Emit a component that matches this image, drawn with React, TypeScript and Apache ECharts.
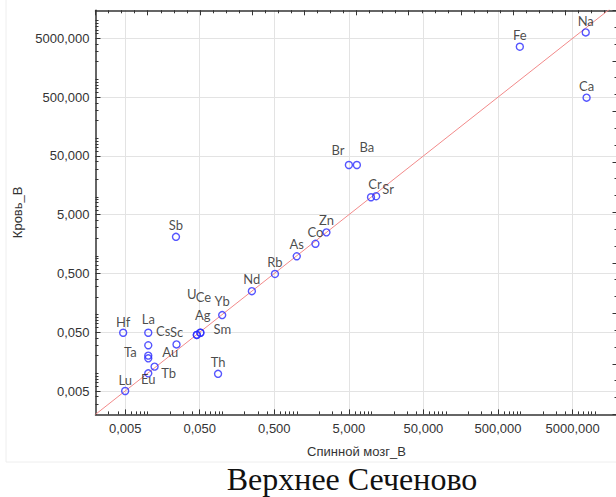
import React, { useEffect, useRef } from "react";
import * as echarts from "echarts";

// ---- data ----
const elements = ["Na", "Fe", "Ca", "Br", "Ba", "Cr", "Sr", "Zn", "Co", "As", "Rb", "Nd", "Yb", "Sb", "Hf", "La", "Cs", "Ta", "Au", "Eu", "Tb", "Lu", "Sc", "Ag", "Sm", "U", "Ce", "Th"];
// Спинной мозг_В (x)
const spinalCord = [7500, 980, 7700, 5.0, 6.4, 9.9, 11.6, 2.5, 1.78, 1.0, 0.51, 0.25, 0.1, 0.024, 0.0047, 0.0102, 0.0102, 0.0102, 0.0102, 0.0102, 0.0124, 0.005, 0.0244, 0.0457, 0.051, 0.0457, 0.051, 0.088];
// Кровь_В (y)
const blood = [6300, 3600, 490, 35, 35, 9.9, 10.3, 2.5, 1.6, 0.98, 0.49, 0.25, 0.098, 2.1, 0.049, 0.049, 0.03, 0.02, 0.018, 0.01, 0.013, 0.005, 0.031, 0.045, 0.049, 0.045, 0.049, 0.0098];
const majorTicks = [0.005, 0.05, 0.5, 5, 50, 500, 5000];
const axisMin = 0.002;
const xAxisMax = 20000;
const yAxisMax = 15000;
const xTitle = "Спинной мозг_В";
const yTitle = "Кровь_В";
const caption = "Верхнее Сеченово";

// ---- label placement (style) ----
const labelOffsets: Record<string, [number, number]> = {
  Na: [0, -11], Fe: [0, -12], Ca: [0, -12], Br: [-11, -15], Ba: [10, -18],
  Cr: [4, -13], Sr: [12, -7], Zn: [0, -12], Co: [0, -12], As: [0, -12],
  Rb: [0, -12], Nd: [0, -12], Yb: [0, -14], Sb: [0, -12], Hf: [0, -11],
  La: [0, -14], Cs: [15, -14], Ta: [-18, -4], Au: [22, -6], Eu: [0, 6],
  Tb: [14, 6], Lu: [0, -11], Sc: [0, -12], Ag: [6, -20], Sm: [22, -4],
  U: [-5, -41], Ce: [3, -36], Th: [0, -12],
};

const lg = (v: number) => Math.log10(v);
const fmt = (u: number) => Math.pow(10, u).toFixed(3).replace(".", ",");

function minorTicks(min: number, max: number) {
  const out: number[] = [];
  for (let n = -4; n <= 5; n++) {
    for (let k = 1; k <= 9; k++) {
      if (k === 5) continue;
      const v = k * Math.pow(10, n);
      if (v >= min && v <= max) out.push(lg(v));
    }
  }
  return out;
}

export default function App() {
  const ref = useRef<HTMLDivElement>(null);
  useEffect(() => {
    if (!ref.current) return;
    const chart = echarts.init(ref.current, undefined, { renderer: "svg" });
    const lineC = "#333";
    const tickLbl = { color: "#333", fontFamily: "Liberation Sans", fontSize: 13 };
    const majors = majorTicks.map(lg);
    const lo = lg(axisMin);
    const hiX = lg(xAxisMax);
    const hiY = lg(yAxisMax);
    const diagHi = Math.max(hiX, hiY);

    const mainAxis = (min: number, max: number, pos: string, extra: any) => ({
      type: "value",
      min,
      max,
      position: pos,
      axisLine: { show: true, onZero: false, lineStyle: { color: lineC, width: 1.5 } },
      axisTick: { show: true, inside: true, length: 5, customValues: majors, lineStyle: { color: lineC } },
      axisLabel: { show: true, customValues: majors, formatter: fmt, ...tickLbl, ...extra },
      splitLine: { show: true, lineStyle: { color: "#e3e3e3", width: 1 } },
    });
    const minorAxis = (min: number, max: number, pos: string) => ({
      type: "value",
      min,
      max,
      position: pos,
      axisLine: { show: false, onZero: false },
      axisTick: { show: true, inside: true, length: 3, customValues: minorTicks(Math.pow(10, min), Math.pow(10, max)), lineStyle: { color: lineC } },
      axisLabel: { show: false },
      splitLine: { show: false },
    });
    const frameAxis = (max: number, pos: string, split: number) => ({
      type: "value",
      min: 0,
      max,
      interval: 1,
      position: pos,
      axisLine: { show: true, onZero: false, lineStyle: { color: lineC, width: 1.5 } },
      axisTick: { show: true, inside: true, length: 5, lineStyle: { color: lineC } },
      minorTick: { show: true, splitNumber: split, length: 3, lineStyle: { color: lineC } },
      axisLabel: { show: false },
      splitLine: { show: false },
    });

    const data = elements.map((name, i) => ({
      name,
      value: [lg(spinalCord[i]), lg(blood[i])],
      label: { offset: labelOffsets[name] || [0, -12] },
    }));

    chart.setOption({
      animation: false,
      backgroundColor: "#ffffff",
      grid: { left: 95.5, right: -1.5, top: 10.3, bottom: 82.6, containLabel: false, outerBoundsMode: "none" },
      xAxis: [
        {
          ...mainAxis(lo, hiX, "bottom", { margin: 8 }),
          name: xTitle,
          nameLocation: "middle",
          nameGap: 31,
          nameTextStyle: { color: "#333", fontFamily: "Liberation Sans", fontSize: 13 },
        },
        minorAxis(lo, hiX, "bottom"),
        frameAxis(10, "top", 4),
      ],
      yAxis: [
        {
          ...mainAxis(lo, hiY, "left", { margin: 6 }),
          name: yTitle,
          nameLocation: "middle",
          nameGap: 71,
          nameTextStyle: { color: "#333", fontFamily: "Liberation Sans", fontSize: 13 },
        },
        minorAxis(lo, hiY, "left"),
        frameAxis(8, "right", 3),
      ],
      graphic: [
        {
          type: "rect",
          shape: { x: 6, y: -2, width: 620, height: 464 },
          style: { fill: "none", stroke: "#eeeeee", lineWidth: 1 },
          silent: true,
          z: -1,
        },
        {
          type: "text",
          x: 352,
          y: 479,
          style: {
            text: caption,
            fontFamily: "Liberation Serif",
            fontSize: 32,
            fill: "#111",
            align: "center",
            verticalAlign: "middle",
          },
        },
      ],
      series: [
        {
          type: "line",
          data: [[lo, lo], [diagHi, diagHi]],
          symbol: "none",
          silent: true,
          clip: true,
          lineStyle: { color: "#f28a8a", width: 1 },
          z: 2,
        },
        {
          type: "scatter",
          data,
          symbol: "circle",
          symbolSize: 7,
          itemStyle: { color: "rgba(0,0,0,0)", borderColor: "#2a2aff", borderWidth: 1.4 },
          label: {
            show: true,
            position: "inside",
            formatter: "{b}",
            color: "#1a1a1a",
            fontFamily: "Lato",
            fontSize: 13,
            align: "center",
            verticalAlign: "middle",
          },
          z: 3,
        },
      ],
    });
    return () => chart.dispose();
  }, []);
  return (
    <div
      ref={ref}
      style={{ position: "fixed", left: 0, top: 0, width: 616, height: 497, background: "#fff" }}
    />
  );
}
